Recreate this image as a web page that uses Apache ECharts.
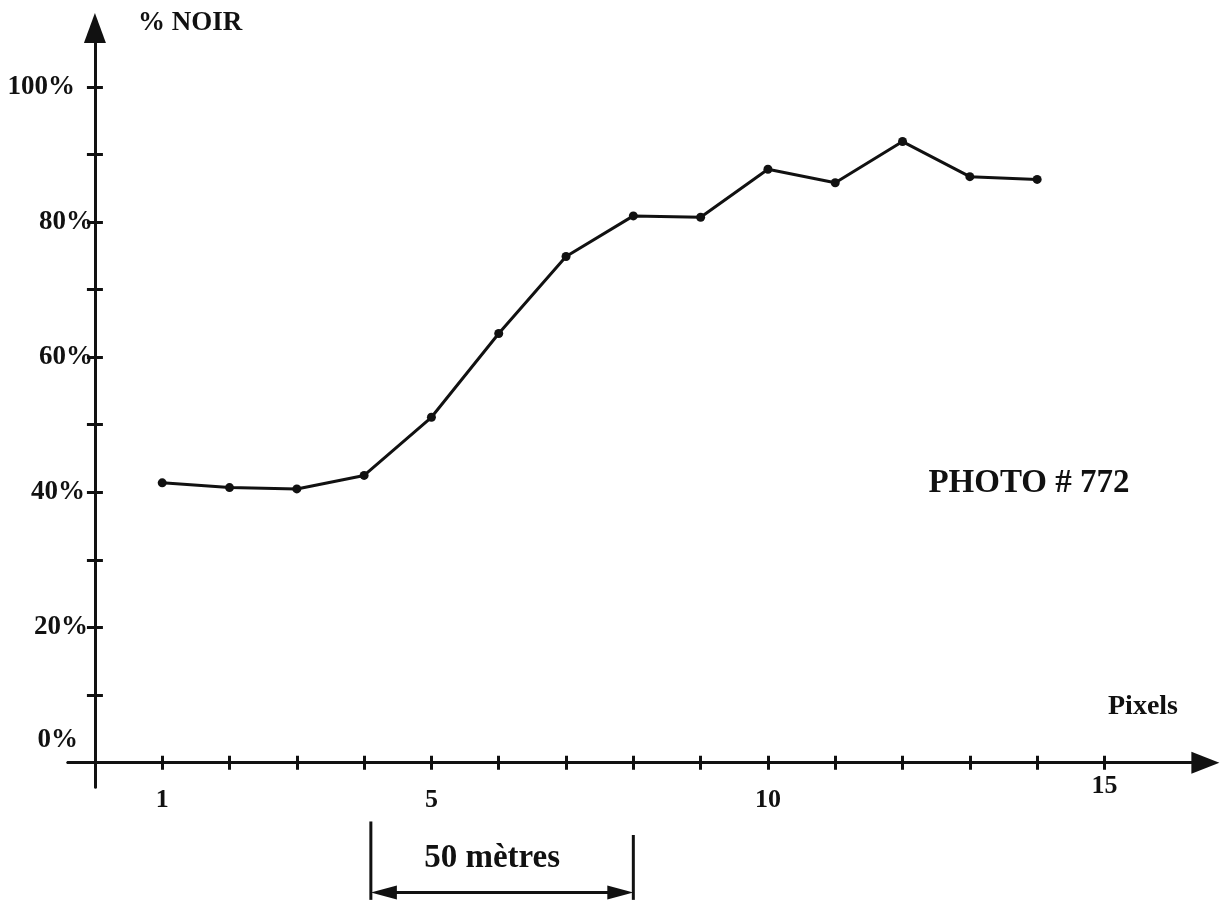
<!DOCTYPE html>
<html>
<head>
<meta charset="utf-8">
<script src="https://cdn.jsdelivr.net/npm/echarts@6/dist/echarts.min.js"></script>
<style>
html,body{margin:0;padding:0;background:#fff;}
#chart{width:1231px;height:907px;}
</style>
</head>
<body>
<div id="chart"></div>
<script>
// ---- data ----
const pixels = [1, 2, 3, 4, 5, 6, 7, 8, 9, 10, 11, 12, 13, 14];
const noirPct = [41.4, 40.7, 40.5, 42.5, 51.1, 63.5, 74.9, 80.9, 80.7, 87.8, 85.8, 91.9, 86.7, 86.3];
const xTickValues = [1, 2, 3, 4, 5, 6, 7, 8, 9, 10, 11, 12, 13, 14, 15];
const xLabelValues = [1, 5, 10, 15];
const yTickValues = [10, 20, 30, 40, 50, 60, 70, 80, 90, 100];
const yLabelValues = [0, 20, 40, 60, 80, 100];
const scaleBar = [4.1, 8.0];          // pixel range covered by "50 mètres"
const scaleBarLabel = '50 mètres';
const yName = '% NOIR';
const xName = 'Pixels';
const photoLabel = 'PHOTO # 772';

const FONT = '"Liberation Serif", "DejaVu Serif", serif';
const INK = '#111';

const chart = echarts.init(document.getElementById('chart'), null, {renderer: 'canvas'});

const xRange = {min: -0.4, max: 16.5};
const yRange = {min: -3.6, max: 108.7};

function xAxisBase(extra) {
  return Object.assign({
    type: 'value', min: xRange.min, max: xRange.max, position: 'bottom',
    splitLine: {show: false},
  }, extra);
}
function yAxisBase(extra) {
  return Object.assign({
    type: 'value', min: yRange.min, max: yRange.max, position: 'left',
    splitLine: {show: false},
  }, extra);
}

const labelFont = {fontFamily: FONT, fontWeight: 'bold', fontSize: 27, color: INK};
// small per-label shifts, as hand-lettered in the original
const yRich = {
  p0: Object.assign({padding: [0, 15, 46, 0]}, labelFont),
  p20: Object.assign({padding: [0, 5, 0, 0]}, labelFont),
  p40: Object.assign({padding: [0, 8, 0, 0]}, labelFont),
  p60: Object.assign({padding: [0, 0, 0, 0]}, labelFont),
  p80: Object.assign({padding: [0, 0, 0, 0]}, labelFont),
  p100: Object.assign({padding: [0, 18, 0, 0]}, labelFont)
};

const option = {
  backgroundColor: '#fff',
  animation: false,
  grid: {left: 68, right: 25.6, top: 28, bottom: 120, containLabel: false, outerBoundsMode: 'none'},
  xAxis: [
    xAxisBase({
      axisLine: {show: true, onZero: true, onZeroAxisIndex: 0, symbol: ['none', 'triangle'], symbolSize: [22, 28], lineStyle: {color: INK, width: 3}},
      axisTick: {show: true, inside: false, length: 7, customValues: xTickValues, lineStyle: {color: INK, width: 3}},
      axisLabel: {
        show: true, customValues: xLabelValues, margin: 13, verticalAlign: 'middle',
        color: INK, fontFamily: FONT, fontWeight: 'bold', fontSize: 26,
        formatter: function (v) { return v === 15 ? '{up|15}' : String(v); },
        rich: {up: {fontFamily: FONT, fontWeight: 'bold', fontSize: 26, color: INK, padding: [0, 0, 28, 0]}}
      }
    }),
    xAxisBase({
      axisLine: {show: true, onZero: true, onZeroAxisIndex: 1, lineStyle: {color: INK, width: 3}},
      axisTick: {show: true, inside: true, length: 7, customValues: xTickValues, lineStyle: {color: INK, width: 3}},
      axisLabel: {show: false}
    })
  ],
  yAxis: [
    yAxisBase({
      name: yName, nameLocation: 'end', nameGap: 5,
      nameTextStyle: {color: INK, fontFamily: FONT, fontWeight: 'bold', fontSize: 27, align: 'left', verticalAlign: 'middle', padding: [0, 0, 0, 43]},
      axisLine: {show: true, onZero: true, onZeroAxisIndex: 0, symbol: ['none', 'triangle'], symbolSize: [22, 30], lineStyle: {color: INK, width: 3}},
      axisTick: {show: true, inside: false, length: 8, customValues: yTickValues, lineStyle: {color: INK, width: 3}},
      axisLabel: Object.assign({
        show: true, customValues: yLabelValues, margin: -25,
        formatter: function (v) { return '{p' + v + '|' + v + '%}'; },
        rich: yRich
      }, labelFont)
    }),
    yAxisBase({
      axisLine: {show: true, onZero: true, onZeroAxisIndex: 1, lineStyle: {color: INK, width: 3}},
      axisTick: {show: true, inside: true, length: 8, customValues: yTickValues, lineStyle: {color: INK, width: 3}},
      axisLabel: {show: false}
    })
  ],
  series: [{
    type: 'line',
    xAxisIndex: 0, yAxisIndex: 0,
    data: pixels.map((p, i) => [p, noirPct[i]]),
    symbol: 'circle', symbolSize: 9,
    lineStyle: {color: INK, width: 3},
    itemStyle: {color: INK},
    clip: false
  }]
};
chart.setOption(option);

// annotations built from data coordinates
function px(x, y) { return chart.convertToPixel({xAxisIndex: 0, yAxisIndex: 0}, [x, y]); }
const leftTop = px(scaleBar[0], -8.7), leftBot = px(scaleBar[0], -20.3);
const rightTop = px(scaleBar[1], -10.7), rightBot = px(scaleBar[1], -20.3);
const arrowL = px(scaleBar[0], -19.2), arrowR = px(scaleBar[1], -19.2);
const ah = 26, aw = 7;
const lineStyle = {stroke: INK, lineWidth: 3};
const textStyleBase = {fill: INK, fontFamily: FONT, fontWeight: 'bold', align: 'center', verticalAlign: 'middle'};

chart.setOption({
  graphic: [
    {type: 'line', shape: {x1: leftTop[0], y1: leftTop[1], x2: leftBot[0], y2: leftBot[1]}, style: lineStyle},
    {type: 'line', shape: {x1: rightTop[0], y1: rightTop[1], x2: rightBot[0], y2: rightBot[1]}, style: lineStyle},
    {type: 'line', shape: {x1: arrowL[0] + ah - 2, y1: arrowL[1], x2: arrowR[0] - ah + 2, y2: arrowR[1]}, style: lineStyle},
    {type: 'polygon', shape: {points: [[arrowL[0], arrowL[1]], [arrowL[0] + ah, arrowL[1] - aw], [arrowL[0] + ah, arrowL[1] + aw]]}, style: {fill: INK}},
    {type: 'polygon', shape: {points: [[arrowR[0], arrowR[1]], [arrowR[0] - ah, arrowR[1] - aw], [arrowR[0] - ah, arrowR[1] + aw]]}, style: {fill: INK}},
    {type: 'text', x: (arrowL[0] + arrowR[0]) / 2 - 10, y: 858, style: Object.assign({text: scaleBarLabel, fontSize: 33}, textStyleBase)},
    {type: 'text', x: 1143, y: 707, style: Object.assign({text: xName, fontSize: 28}, textStyleBase)},
    {type: 'text', x: 1029, y: 483, style: Object.assign({text: photoLabel, fontSize: 33}, textStyleBase)}
  ]
});
</script>
</body>
</html>
